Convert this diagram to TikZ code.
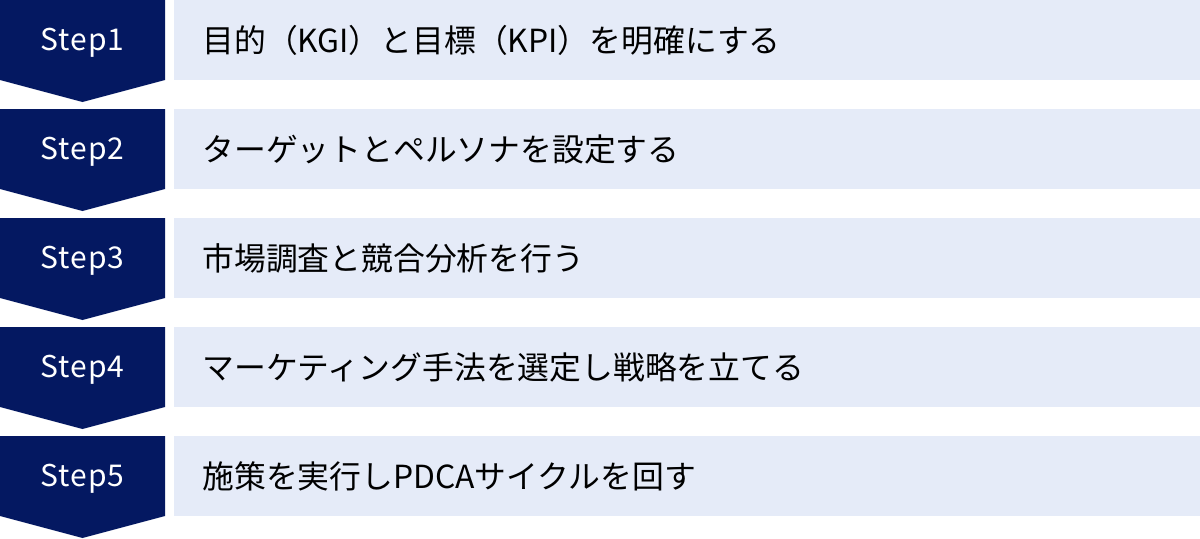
\documentclass[tikz,border=0pt]{standalone}
\usepackage{fontspec}
\setmainfont{Noto Sans CJK JP}
\newfontfamily\steplabelfont[LetterSpace=3]{Noto Sans CJK JP}
\usetikzlibrary{calc}
\definecolor{stepnavy}{HTML}{041861}
\definecolor{steplight}{HTML}{E5EBF8}
\tikzset{
	stepbox/.style={text=white,font=\steplabelfont\fontsize{15pt}{18pt}\selectfont,inner sep=0pt},
	taskbox/.style={fill=steplight,anchor=north west,minimum width=513pt,minimum height=40pt,
		inner xsep=14pt,text width=485pt,align=left,font=\fontsize{15.9pt}{19pt}\selectfont}
}
\begin{document}
\begin{tikzpicture}[x=0.5pt,y=0.5pt]
	\useasboundingbox (0,0) rectangle (1200,538);
	\foreach \n/\txt in {1/{目的（KGI）と目標（KPI）を明確にする},
		2/{ターゲットとペルソナを設定する},
		3/{市場調査と競合分析を行う},
		4/{マーケティング手法を選定し戦略を立てる},
		5/{施策を実行しPDCAサイクルを回す}}{
		\pgfmathsetmacro\rowtop{538-109*(\n-1)}
		\fill[stepnavy] (0,\rowtop) -- (165,\rowtop) -- (165,\rowtop-80) -- (82.5,\rowtop-102) -- (0,\rowtop-80) -- cycle;
		\node[stepbox] (S\n) at (82.5,\rowtop-43) {Step\n};
		\node[taskbox] (T\n) at (174,\rowtop) {\txt};
	}
\end{tikzpicture}
\end{document}
